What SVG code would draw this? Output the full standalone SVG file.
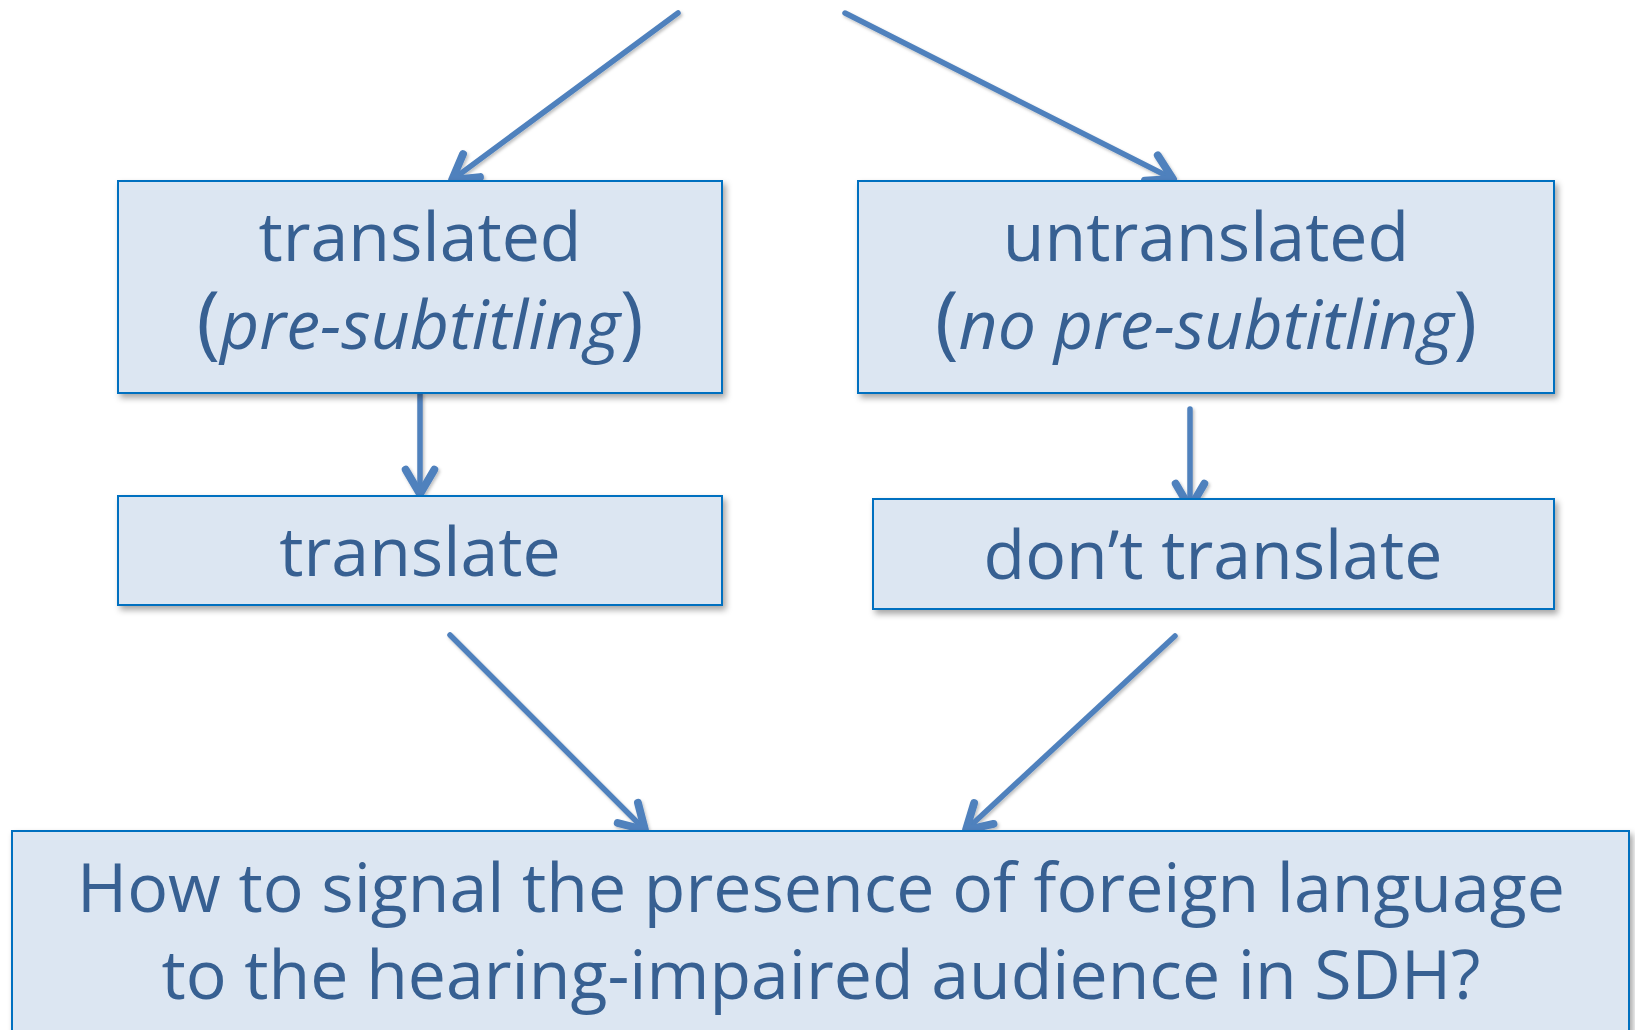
<svg xmlns="http://www.w3.org/2000/svg" width="1635" height="1030" viewBox="0 0 1635 1030">
<style>
.box{fill:#dce6f2;stroke:#0070c0;stroke-width:2;filter:url(#sh)}
.t{font-family:"Open Sans","Noto Sans",sans-serif;font-size:68px;fill:#376092;text-anchor:middle}
.i{font-style:italic}
.p{font-size:80px}
.c{fill:none;stroke:#4f81bd;stroke-width:5.5;stroke-linecap:round;marker-end:url(#ah)}
</style>
<defs>
<filter id="sh" x="-5%" y="-5%" width="110%" height="120%">
<feDropShadow dx="3" dy="4" stdDeviation="3" flood-color="#000" flood-opacity="0.35"/>
</filter>
<filter id="ls" filterUnits="userSpaceOnUse" x="0" y="0" width="1635" height="1030">
<feDropShadow dx="1.5" dy="2" stdDeviation="1.5" flood-color="#000" flood-opacity="0.25"/>
</filter>
<marker id="ah" markerUnits="userSpaceOnUse" markerWidth="40" markerHeight="40" viewBox="-24 -14 28 28" refX="0" refY="0" orient="auto">
<path d="M-17,-10 L0,0 L-17,10" fill="none" stroke="#4f81bd" stroke-width="5.5" stroke-linecap="round" stroke-linejoin="round"/>
</marker>
</defs>
<g id="connectors" filter="url(#ls)">
<line class="c" x1="678" y1="13" x2="452" y2="180"/>
<line class="c" x1="845" y1="13" x2="1173" y2="179"/>
<line class="c" x1="420" y1="394" x2="420" y2="494"/>
<line class="c" x1="1190" y1="409" x2="1190" y2="508"/>
<line class="c" x1="450" y1="635" x2="645" y2="830"/>
<line class="c" x1="1175" y1="636" x2="966" y2="830"/>
</g>
<g id="translated">
<rect class="box" x="118" y="181" width="604" height="212"/>
<text class="t" x="420" y="261">translated</text>
<text class="t" x="420" y="349"><tspan class="p">(</tspan><tspan class="i">pre-subtitling</tspan><tspan class="p">)</tspan></text>
</g>
<g id="untranslated">
<rect class="box" x="858" y="181" width="696" height="212"/>
<text class="t" x="1206" y="261">untranslated</text>
<text class="t" x="1206" y="349"><tspan class="p">(</tspan><tspan class="i">no pre-subtitling</tspan><tspan class="p">)</tspan></text>
</g>
<g id="translate">
<rect class="box" x="118" y="496" width="604" height="109"/>
<text class="t" x="420" y="576">translate</text>
</g>
<g id="dont-translate">
<rect class="box" x="873" y="499" width="681" height="110"/>
<text class="t" x="1213" y="579">don’t translate</text>
</g>
<g id="question">
<rect class="box" x="12" y="831" width="1617" height="220"/>
<text class="t" x="821" y="912">How to signal the presence of foreign language</text>
<text class="t" x="821" y="999">to the hearing-impaired audience in SDH?</text>
</g>
</svg>
